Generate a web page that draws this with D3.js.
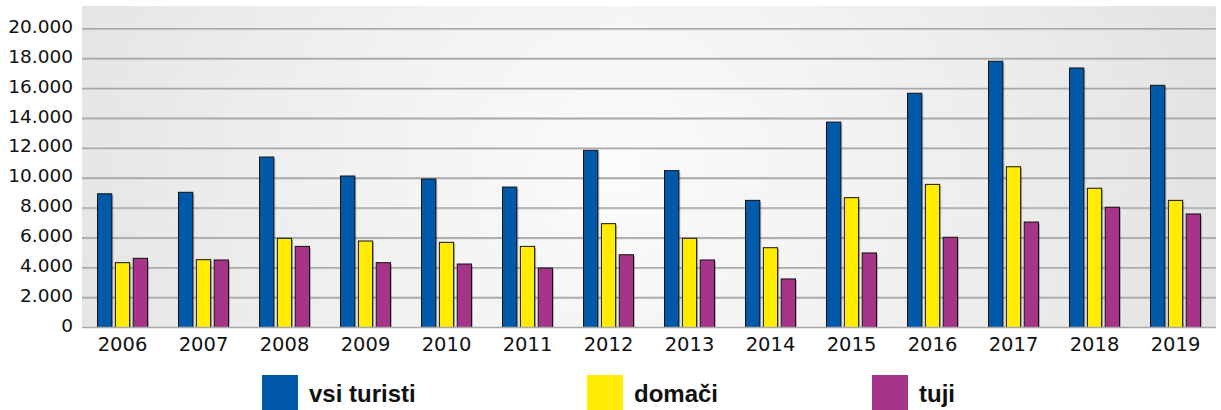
<!DOCTYPE html>
<html>
<head>
<meta charset="utf-8">
<script src="https://cdn.jsdelivr.net/npm/d3@7"></script>
<style>
  body { margin: 0; background: #fff; }
  svg { display: block; }
  .tick text { fill: #111; }
</style>
</head>
<body>
<div id="chart"></div>
<script>
// tourists per year
const years = ['2006','2007','2008','2009','2010','2011','2012','2013','2014','2015','2016','2017','2018','2019'];
const seriesNames = ['vsi turisti', 'domači', 'tuji'];
const vsiTuristi = [8950, 9050, 11410, 10140, 9940, 9400, 11860, 10500, 8510, 13750, 15680, 17820, 17370, 16210];
const domaci = [4340, 4540, 5970, 5790, 5700, 5430, 6950, 5970, 5340, 8690, 9580, 10760, 9320, 8510];
const tuji = [4630, 4520, 5430, 4340, 4250, 3980, 4870, 4520, 3250, 4990, 6040, 7060, 8050, 7600];
const yTicks = [0, 2000, 4000, 6000, 8000, 10000, 12000, 14000, 16000, 18000, 20000];
const colors = ['#005aa9', '#ffec00', '#a6358a'];

const width = 1221, height = 410;
const plotLeft = 82, plotRight = 1216, plotTop = 6, plotBottom = 327.5;

const series = [vsiTuristi, domaci, tuji];
const rows = years.map((yr, i) => ({year: yr, values: series.map((s, j) => ({name: seriesNames[j], v: s[i], c: colors[j]}))}));

const svg = d3.select('#chart').append('svg')
  .attr('width', width).attr('height', height);

const defs = svg.append('defs');
const grad = defs.append('radialGradient').attr('id', 'bg')
  .attr('gradientUnits', 'userSpaceOnUse')
  .attr('cx', 620).attr('cy', 170).attr('r', 620);
grad.append('stop').attr('offset', '0%').attr('stop-color', '#fbfbfb');
grad.append('stop').attr('offset', '60%').attr('stop-color', '#ededed');
grad.append('stop').attr('offset', '100%').attr('stop-color', '#e2e2e2');

svg.append('rect')
  .attr('x', plotLeft).attr('y', plotTop)
  .attr('width', plotRight - plotLeft).attr('height', plotBottom - plotTop)
  .attr('fill', 'url(#bg)');

const x0 = d3.scaleBand().domain(years).range([plotLeft, plotRight])
  .paddingInner(0.383).paddingOuter(0.383 / 2);
const x1 = d3.scaleBand().domain(seriesNames).range([0, x0.bandwidth()])
  .paddingInner(0.2).paddingOuter(0);
const y = d3.scaleLinear().domain([0, 20000]).range([plotBottom, 28.7]);

// gridlines
const grid = svg.append('g');
grid.selectAll('line.sh').data(yTicks.filter(d => d > 0)).join('line')
  .attr('class', 'sh')
  .attr('x1', plotLeft).attr('x2', plotRight)
  .attr('y1', d => y(d) + 1).attr('y2', d => y(d) + 1)
  .attr('stroke', '#d4d4d4').attr('stroke-width', 1);
grid.selectAll('line.g').data(yTicks.filter(d => d > 0)).join('line')
  .attr('class', 'g')
  .attr('x1', plotLeft).attr('x2', plotRight)
  .attr('y1', d => y(d)).attr('y2', d => y(d))
  .attr('stroke', '#a9a9a9').attr('stroke-width', 1.6);

// y axis labels
const fmt = d => d === 0 ? '0' : d3.format(',')(d).replace(/,/g, '.');
const yAxis = svg.append('g')
  .attr('transform', `translate(${plotLeft},0)`)
  .call(d3.axisLeft(y).tickValues(yTicks).tickFormat(fmt).tickSize(0).tickPadding(9));
yAxis.select('.domain').remove();
yAxis.selectAll('text')
  .attr('font-family', 'DejaVu Sans, sans-serif')
  .attr('font-size', '18.5px')
  .attr('dy', '0.2em');

// bars
const groups = svg.append('g').selectAll('g').data(rows).join('g')
  .attr('transform', d => `translate(${x0(d.year)},0)`);

groups.selectAll('rect.shadow').data(d => d.values).join('rect')
  .attr('class', 'shadow')
  .attr('x', d => x1(d.name) + 1.5)
  .attr('y', d => y(d.v) + 1.5)
  .attr('width', x1.bandwidth())
  .attr('height', d => plotBottom - y(d.v) - 1.5)
  .attr('fill', '#000').attr('opacity', 0.25);

groups.selectAll('rect.bar').data(d => d.values).join('rect')
  .attr('class', 'bar')
  .attr('x', d => x1(d.name))
  .attr('y', d => y(d.v))
  .attr('width', x1.bandwidth())
  .attr('height', d => plotBottom - y(d.v))
  .attr('fill', d => d.c)
  .attr('stroke', '#111').attr('stroke-width', 1);

// x axis
svg.append('line')
  .attr('x1', plotLeft).attr('x2', plotRight)
  .attr('y1', plotBottom).attr('y2', plotBottom)
  .attr('stroke', '#a9a9a9').attr('stroke-width', 1.5);

const xAxis = svg.append('g')
  .attr('transform', `translate(0,${plotBottom})`)
  .call(d3.axisBottom(x0).tickSize(0).tickPadding(10));
xAxis.select('.domain').remove();
xAxis.selectAll('text')
  .attr('font-family', 'DejaVu Sans, sans-serif')
  .attr('font-size', '19.5px')
  .attr('dy', '0.71em');

// legend
const legendX = [262, 587, 872];
const legend = svg.append('g').selectAll('g').data(seriesNames).join('g')
  .attr('transform', (d, i) => `translate(${legendX[i]},375)`);
legend.append('rect')
  .attr('width', 36).attr('height', 36)
  .attr('fill', (d, i) => colors[i]);
legend.append('text')
  .attr('x', 47).attr('y', 26.5)
  .attr('font-family', 'Liberation Sans, Arial, sans-serif')
  .attr('font-weight', 'bold')
  .attr('font-size', '24px')
  .attr('fill', '#111')
  .text(d => d);
</script>
</body>
</html>
